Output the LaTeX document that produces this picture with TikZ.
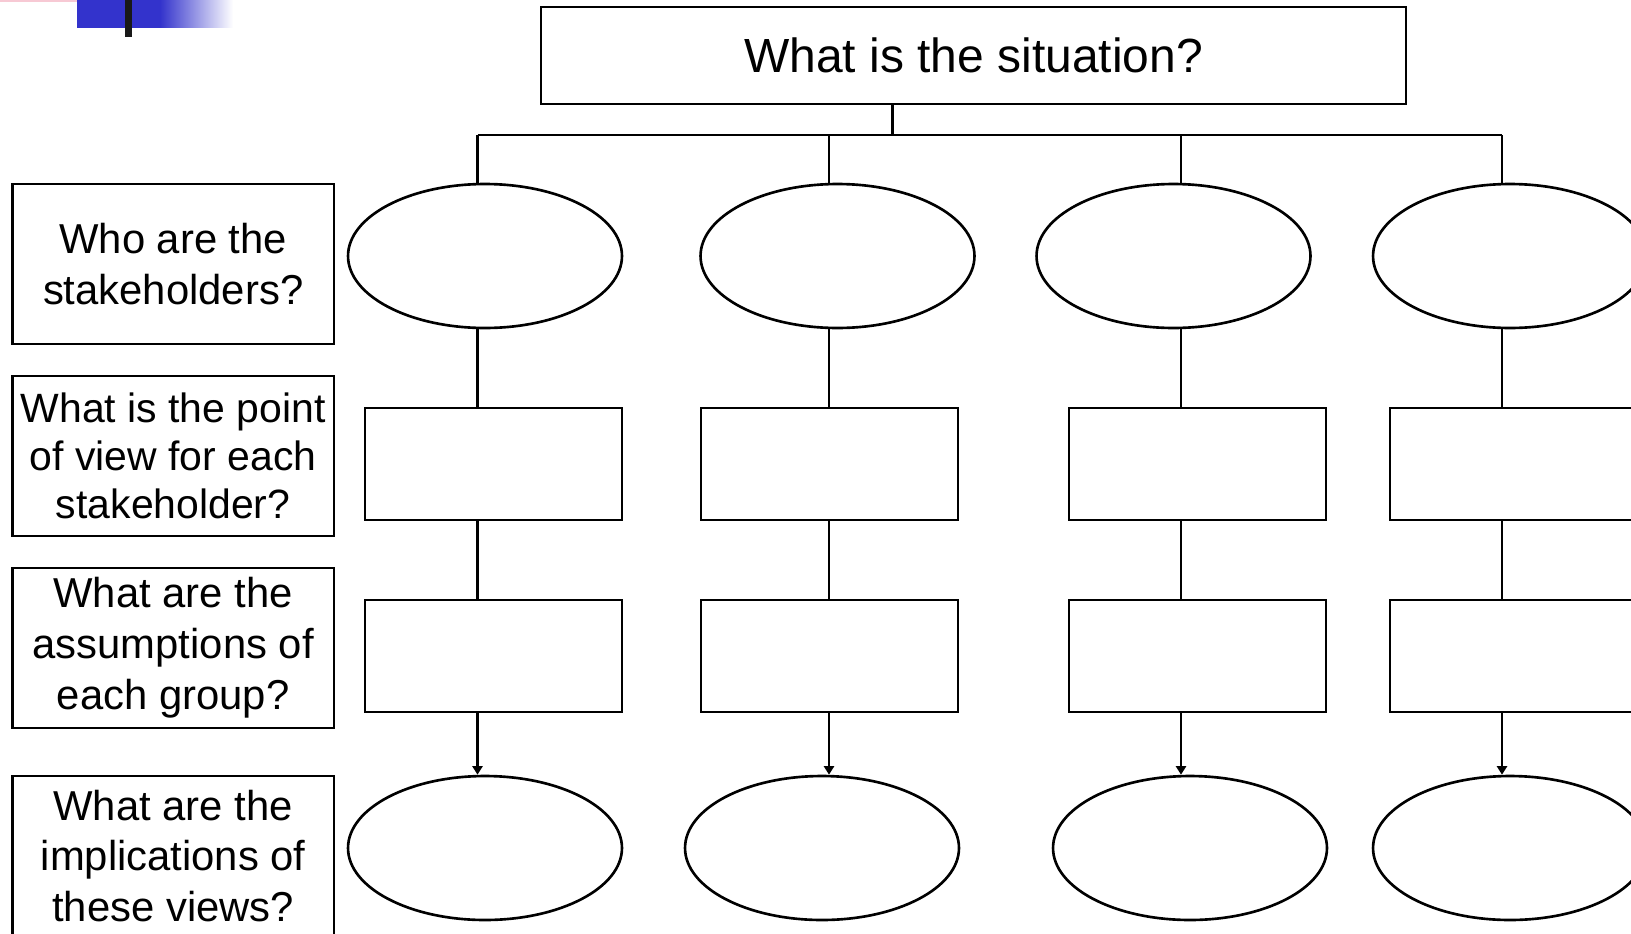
\documentclass[tikz,border=0pt]{standalone}
\usepackage{fontspec}
\setmainfont{Liberation Sans}
\usetikzlibrary{shapes.geometric, arrows.meta}
\definecolor{logoblue}{HTML}{3333CC}
\definecolor{logopink}{HTML}{F7C9D4}
\tikzstyle{question} = [rectangle, draw=black, line width=1.5pt, minimum width=6.43cm, minimum height=3.2cm, align=center, font=\fontsize{23.8}{29}\selectfont]
\tikzstyle{group} = [ellipse, draw=black, line width=1.5pt, minimum width=5.48cm, minimum height=2.88cm, inner sep=0pt]
\tikzstyle{answer} = [rectangle, draw=black, line width=1.5pt, minimum width=5.14cm, minimum height=2.24cm]
\tikzstyle{link} = [line width=1.4pt]
\tikzstyle{arrow} = [line width=1.4pt, -{Triangle[length=0.17cm, width=0.2cm]}]

\begin{document}
\begin{tikzpicture}[x=0.02cm, y=-0.02cm]
\clip (0,0) rectangle (1631,933);
\fill[white] (0,0) rectangle (1631,933);

% logo in the corner
\fill[logopink] (0,0) rectangle (111,1.5);
\fill[logoblue] (77,0) rectangle (166,28);
\shade[left color=logoblue, right color=white] (160,0) rectangle (233,27);
\fill[black!90] (125,0) rectangle (132,37);

\node at (973.5,55.6) (situation) [rectangle, draw=black, line width=1.5pt, minimum width=17.3cm, minimum height=1.94cm, font=\fontsize{27.3}{31}\selectfont] {What is the situation?};

% row labels
\node at (173.2,264) (who) [question] {Who are the\\stakeholders?};
\node at (173.2,456) (point) [question, font=\fontsize{23.3}{27.5}\selectfont] {What is the point\\of view for each\\stakeholder?};
\node at (173.2,648) (assume) [question] {What are the\\assumptions of\\each group?};
\node at (173.2,856) (implic) [question] {What are the\\implications of\\these views?};

% bus
\coordinate (drop) at (892.5,135);
\coordinate (bus1) at (477.5,135);
\coordinate (bus2) at (829,135);
\coordinate (bus3) at (1181,135);
\coordinate (bus4) at (1502,135);

\node at (485,256) (holder1) [group] {};
\node at (837.5,256) (holder2) [group] {};
\node at (1173.5,256) (holder3) [group] {};
\node at (1510,256) (holder4) [group] {};

\node at (493.5,464) (view1) [answer] {};
\node at (829.5,464) (view2) [answer] {};
\node at (1197.5,464) (view3) [answer] {};
\node at (1518.5,464) (view4) [answer] {};

\node at (493.5,656) (assum1) [answer] {};
\node at (829.5,656) (assum2) [answer] {};
\node at (1197.5,656) (assum3) [answer] {};
\node at (1518.5,656) (assum4) [answer] {};

\node at (485,848) (result1) [group] {};
\node at (822,848) (result2) [group] {};
\node at (1190,848) (result3) [group] {};
\node at (1510,848) (result4) [group] {};

\draw[link] (drop |- situation.south) -- (drop);
\draw[link] (bus1) -- (bus4);
\foreach \i in {1,2,3,4} {
  \draw[link] (bus\i) -- (bus\i |- holder\i.north);
  \draw[link] (bus\i |- holder\i.south) -- (bus\i |- view\i.north);
  \draw[link] (bus\i |- view\i.south) -- (bus\i |- assum\i.north);
  \draw[arrow] (bus\i |- assum\i.south) -- (bus\i |- result\i.north);
}

\end{tikzpicture}
\end{document}
